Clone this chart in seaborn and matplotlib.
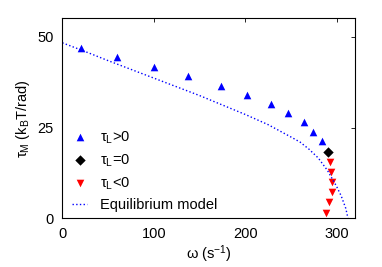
import pandas as pd
import matplotlib
matplotlib.use('Agg')
import matplotlib.pyplot as plt
import seaborn as sns

# Values
omega_pos = [20, 60, 100, 138, 174, 202, 228, 247, 264, 274, 284]
tau_pos = [47.0, 44.3, 41.6, 39.1, 36.5, 34.0, 31.4, 29.0, 26.4, 23.8, 21.2]

omega_zero = [291]
tau_zero = [18.2]

omega_neg = [292.4, 293.5, 294.6, 295.3, 292.0, 288.7]
tau_neg = [15.4, 12.7, 10.0, 7.3, 4.5, 1.5]

omega_model = [0, 25, 50, 75, 100, 125, 150, 175, 200, 225, 250, 260, 270,
               280, 290, 300, 305, 310, 312.5]
tau_model = [48.3, 45.9, 43.4, 41.0, 38.6, 36.2, 33.8, 31.2, 28.6, 25.8, 22.4,
             21.0, 19.0, 16.6, 13.2, 8.8, 6.2, 2.8, 0.0]

sns.set_style('white')
plt.rcParams['font.family'] = ['Liberation Sans', 'DejaVu Sans']
plt.rcParams['mathtext.fontset'] = 'custom'
plt.rcParams['mathtext.rm'] = 'Liberation Sans'
plt.rcParams['mathtext.it'] = 'Liberation Sans:italic'
plt.rcParams['font.size'] = 10.5
plt.rcParams['text.color'] = 'black'
plt.rcParams['axes.labelcolor'] = 'black'
plt.rcParams['xtick.color'] = 'black'
plt.rcParams['ytick.color'] = 'black'

fig = plt.figure(figsize=(3.82, 2.67), dpi=100)
ax = fig.add_axes([0.163, 0.182, 0.766, 0.749])

model = pd.DataFrame({'omega': omega_model, 'tau': tau_model})

sns.scatterplot(x=omega_pos, y=tau_pos, marker='^', color='#0000ff', s=30,
                linewidth=0, label='τ$_\\mathrm{L}$>0', ax=ax)
sns.scatterplot(x=omega_zero, y=tau_zero, marker='D', color='black', s=28,
                linewidth=0, label='τ$_\\mathrm{L}$=0', ax=ax)
sns.scatterplot(x=omega_neg, y=tau_neg, marker='v', color='#ff0000', s=30,
                linewidth=0, label='τ$_\\mathrm{L}$<0', ax=ax)
sns.lineplot(data=model, x='omega', y='tau', color='#0000ff', linestyle=':',
             linewidth=1.0, label='Equilibrium model', ax=ax)

ax.set_xlim(0, 320)
ax.set_ylim(0, 55)
ax.set_xticks([0, 100, 200, 300])
ax.set_yticks([0, 25, 50])
ax.tick_params(direction='in', top=True, right=True, length=3, width=0.6,
               labelsize=10.5, pad=6)
for sp in ax.spines.values():
    sp.set_color('black')
    sp.set_linewidth(0.8)

ax.set_xlabel('ω (s$^{-1}$)', fontsize=10.5, labelpad=2)
ax.set_ylabel('τ$_\\mathrm{M}$ (k$_\\mathrm{B}$T/rad)', fontsize=10.5, labelpad=4)

ax.legend(loc='lower left', bbox_to_anchor=(0.0, -0.02), frameon=False,
          handlelength=1.0, handletextpad=0.9, labelspacing=0.45,
          borderaxespad=0.3, fontsize=10.5)

fig.savefig('out.png', dpi=100)
